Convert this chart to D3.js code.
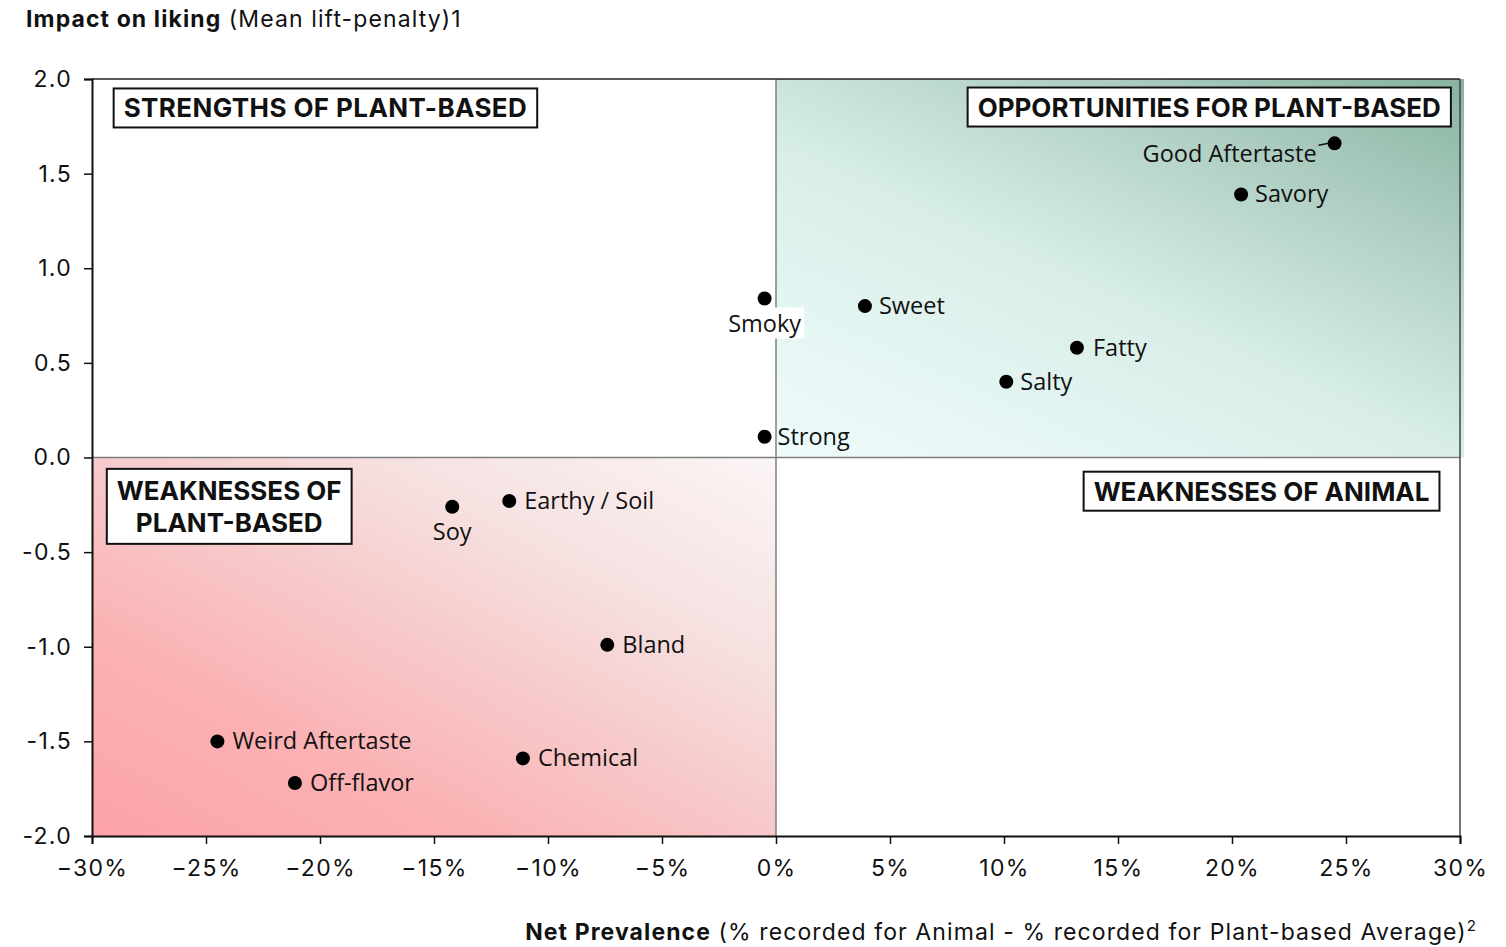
<!DOCTYPE html>
<html>
<head>
<meta charset="utf-8">
<script src="https://cdn.jsdelivr.net/npm/d3@7"></script>
<style>
  html, body { margin: 0; padding: 0; background: #fff; }
  svg { display: block; }
</style>
</head>
<body>
<svg id="chart" width="1506" height="947"></svg>
<script>
// Flavour attributes: net prevalence (%) vs. impact on liking
const attributes = ["Good Aftertaste", "Savory", "Smoky", "Sweet", "Fatty", "Salty", "Strong",
                    "Soy", "Earthy / Soil", "Bland", "Weird Aftertaste", "Chemical", "Off-flavor"];
const netPrevalence = [24.5, 20.4, -0.5, 3.9, 13.2, 10.1, -0.5, -14.2, -11.7, -7.4, -24.5, -11.1, -21.1];
const likingImpact = [1.66, 1.39, 0.84, 0.80, 0.58, 0.40, 0.11, -0.26, -0.23, -0.99, -1.50, -1.59, -1.72];

const xTicks = [-30, -25, -20, -15, -10, -5, 0, 5, 10, 15, 20, 25, 30];
const yTicks = [2.0, 1.5, 1.0, 0.5, 0.0, -0.5, -1.0, -1.5, -2.0];

const quadrantLabels = [
  { lines: ["STRENGTHS OF PLANT-BASED"], x: -29.05, y: 1.95, anchor: "start", spacing: 0.4 },
  { lines: ["OPPORTUNITIES FOR PLANT-BASED"], x: 29.6, y: 1.955, anchor: "end", spacing: 0 },
  { lines: ["WEAKNESSES OF", "PLANT-BASED"], x: -29.35, y: -0.06, anchor: "start", spacing: 0 },
  { lines: ["WEAKNESSES OF ANIMAL"], x: 29.1, y: -0.075, anchor: "end", spacing: 0 }
];

const svg = d3.select("#chart");
const margin = { left: 92, right: 46, top: 79, bottom: 111 };
const W = 1506, H = 947;

const x = d3.scaleLinear().domain([-30, 30]).range([margin.left, W - margin.right]);
const y = d3.scaleLinear().domain([-2, 2]).range([H - margin.bottom, margin.top]);

const defs = svg.append("defs");
// Teal wash: light at lower-left, deepening towards the upper-right corner
const teal = defs.append("linearGradient").attr("id", "gradTeal")
  .attr("gradientUnits", "userSpaceOnUse")
  .attr("x1", x(0)).attr("y1", y(0)).attr("x2", x(0) + 258).attr("y2", y(0) - 571);
teal.append("stop").attr("offset", "0%").attr("stop-color", "#eefcfb");
teal.append("stop").attr("offset", "45%").attr("stop-color", "#d9eee9");
teal.append("stop").attr("offset", "70%").attr("stop-color", "#b6d4c9");
teal.append("stop").attr("offset", "100%").attr("stop-color", "#88b3a0");

// Pink wash: pale at upper-right, strongest towards the lower-left
const pink = defs.append("linearGradient").attr("id", "gradPink")
  .attr("gradientUnits", "userSpaceOnUse")
  .attr("x1", x(0)).attr("y1", y(0)).attr("x2", x(0) - 306).attr("y2", y(0) + 578);
pink.append("stop").attr("offset", "0%").attr("stop-color", "#fbf5f5");
pink.append("stop").attr("offset", "28%").attr("stop-color", "#f6e1e1");
pink.append("stop").attr("offset", "50%").attr("stop-color", "#f7c9ca");
pink.append("stop").attr("offset", "72%").attr("stop-color", "#fbb2b4");
pink.append("stop").attr("offset", "100%").attr("stop-color", "#fca3a7");

// Shaded quadrants
svg.append("rect")
  .attr("x", x(0)).attr("y", y(2))
  .attr("width", x(30) - x(0) + 4).attr("height", y(0) - y(2))
  .attr("fill", "url(#gradTeal)");
svg.append("rect")
  .attr("x", x(-30)).attr("y", y(0))
  .attr("width", x(0) - x(-30)).attr("height", y(-2) - y(0))
  .attr("fill", "url(#gradPink)");

// Quadrant dividers and outer frame
svg.append("line").attr("x1", x(0)).attr("x2", x(0)).attr("y1", y(2)).attr("y2", y(-2))
  .attr("stroke", "#7f7f7f").attr("stroke-width", 1.5);
svg.append("line").attr("x1", x(-30)).attr("x2", x(30)).attr("y1", y(0)).attr("y2", y(0))
  .attr("stroke", "#7f7f7f").attr("stroke-width", 1.5);
svg.append("line").attr("x1", x(-30)).attr("x2", x(30)).attr("y1", y(2)).attr("y2", y(2))
  .attr("stroke", "#222").attr("stroke-width", 1.5);
svg.append("line").attr("x1", x(30)).attr("x2", x(30)).attr("y1", y(2)).attr("y2", y(-2))
  .attr("stroke", "#444").attr("stroke-width", 1.5);

// Axes
const tickFont = "Inter, 'Open Sans', sans-serif";
const xAxis = svg.append("g").attr("transform", `translate(0,${y(-2)})`)
  .call(d3.axisBottom(x).tickValues(xTicks).tickSize(8).tickPadding(16));
const yAxis = svg.append("g").attr("transform", `translate(${x(-30)},0)`)
  .call(d3.axisLeft(y).tickValues(yTicks).tickSize(8).tickPadding(12));
[xAxis, yAxis].forEach(g => {
  g.select(".domain").attr("stroke", "#111").attr("stroke-width", 2);
  g.selectAll(".tick line").attr("stroke", "#111").attr("stroke-width", 1.5);
  g.selectAll(".tick text").attr("fill", "#111")
    .style("font-family", tickFont).style("font-size", "23px").style("letter-spacing", "1.3px");
});
xAxis.selectAll(".tick text").text(d => (d < 0 ? "\u2212" : "") + Math.abs(d) + "%");
yAxis.selectAll(".tick text").text(d => (d < 0 ? "-" : "") + Math.abs(d).toFixed(1));

// Quadrant label boxes
quadrantLabels.forEach(q => {
  const g = svg.append("g");
  const lh = 32;
  const t = g.append("text")
    .style("font-family", "Inter, 'Open Sans', sans-serif")
    .style("font-size", "26px").style("font-weight", 700)
    .style("letter-spacing", q.spacing + "px")
    .attr("fill", "#111").attr("text-anchor", "middle");
  q.lines.forEach((l, i) => t.append("tspan").attr("x", 0).attr("dy", i === 0 ? 0 : lh).text(l));
  const bb = t.node().getBBox();
  const padX = 10, padY = q.lines.length > 1 ? 7 : 5;
  const bw = bb.width + padX * 2, bh = bb.height + padY * 2 - 2;
  const left = q.anchor === "start" ? x(q.x) : x(q.x) - bw;
  const top = y(q.y);
  g.insert("rect", "text")
    .attr("x", left).attr("y", top).attr("width", bw).attr("height", bh)
    .attr("fill", "#fff").attr("stroke", "#111").attr("stroke-width", 2);
  t.attr("transform", `translate(${left + bw / 2},${top + padY - bb.y - 1})`);
});

// Points and labels
const data = attributes.map((name, i) => ({ name, x: netPrevalence[i], y: likingImpact[i] }));
const labelPos = {
  "Good Aftertaste": { dx: -18, dy: 19, anchor: "end" },
  "Savory": { dx: 14, dy: 8, anchor: "start" },
  "Smoky": { dx: 0, dy: 33, anchor: "middle", boxed: true },
  "Sweet": { dx: 14, dy: 8, anchor: "start" },
  "Fatty": { dx: 16, dy: 8, anchor: "start" },
  "Salty": { dx: 14, dy: 8, anchor: "start" },
  "Strong": { dx: 13, dy: 8, anchor: "start" },
  "Soy": { dx: 0, dy: 33, anchor: "middle" },
  "Earthy / Soil": { dx: 15, dy: 8, anchor: "start" },
  "Bland": { dx: 15, dy: 8, anchor: "start" },
  "Weird Aftertaste": { dx: 15, dy: 8, anchor: "start" },
  "Chemical": { dx: 15, dy: 8, anchor: "start" },
  "Off-flavor": { dx: 15, dy: 8, anchor: "start" }
};
const labelFont = "'Open Sans', 'Noto Sans', sans-serif";

const pts = svg.append("g");
data.forEach(d => {
  const px = x(d.x), py = y(d.y);
  const p = labelPos[d.name];
  const g = pts.append("g");
  if (d.name === "Good Aftertaste") {
    g.append("line").attr("x1", px - 16).attr("y1", py + 2).attr("x2", px - 6).attr("y2", py)
      .attr("stroke", "#111").attr("stroke-width", 1.5);
  }
  const t = g.append("text")
    .attr("x", px + p.dx).attr("y", py + p.dy)
    .attr("text-anchor", p.anchor)
    .style("font-family", labelFont).style("font-size", "23.5px")
    .attr("fill", "#111").text(d.name);
  if (p.boxed) {
    const bb = t.node().getBBox();
    g.insert("rect", "text").attr("x", bb.x - 3).attr("y", bb.y + 1)
      .attr("width", bb.width + 6).attr("height", bb.height - 1).attr("fill", "#fff");
  }
  g.append("circle").attr("cx", px).attr("cy", py).attr("r", 7).attr("fill", "#000");
});

// Axis titles
const yTitle = svg.append("text").attr("x", 26).attr("y", 27)
  .style("font-family", tickFont).style("font-size", "23px").style("letter-spacing", "1.1px")
  .attr("fill", "#111");
yTitle.append("tspan").style("font-weight", 700).text("Impact on liking");
yTitle.append("tspan").text(" (Mean lift-penalty)1");

const xTitle = svg.append("text").attr("x", 1476).attr("y", 940).attr("text-anchor", "end")
  .style("font-family", tickFont).style("font-size", "23px").style("letter-spacing", "1.1px")
  .attr("fill", "#111");
xTitle.append("tspan").style("font-weight", 700).text("Net Prevalence");
xTitle.append("tspan").text(" (% recorded for Animal - % recorded for Plant-based Average)");
xTitle.append("tspan").attr("dy", -9).style("font-size", "15px").style("letter-spacing", "0px").text("2");
</script>
</body>
</html>
